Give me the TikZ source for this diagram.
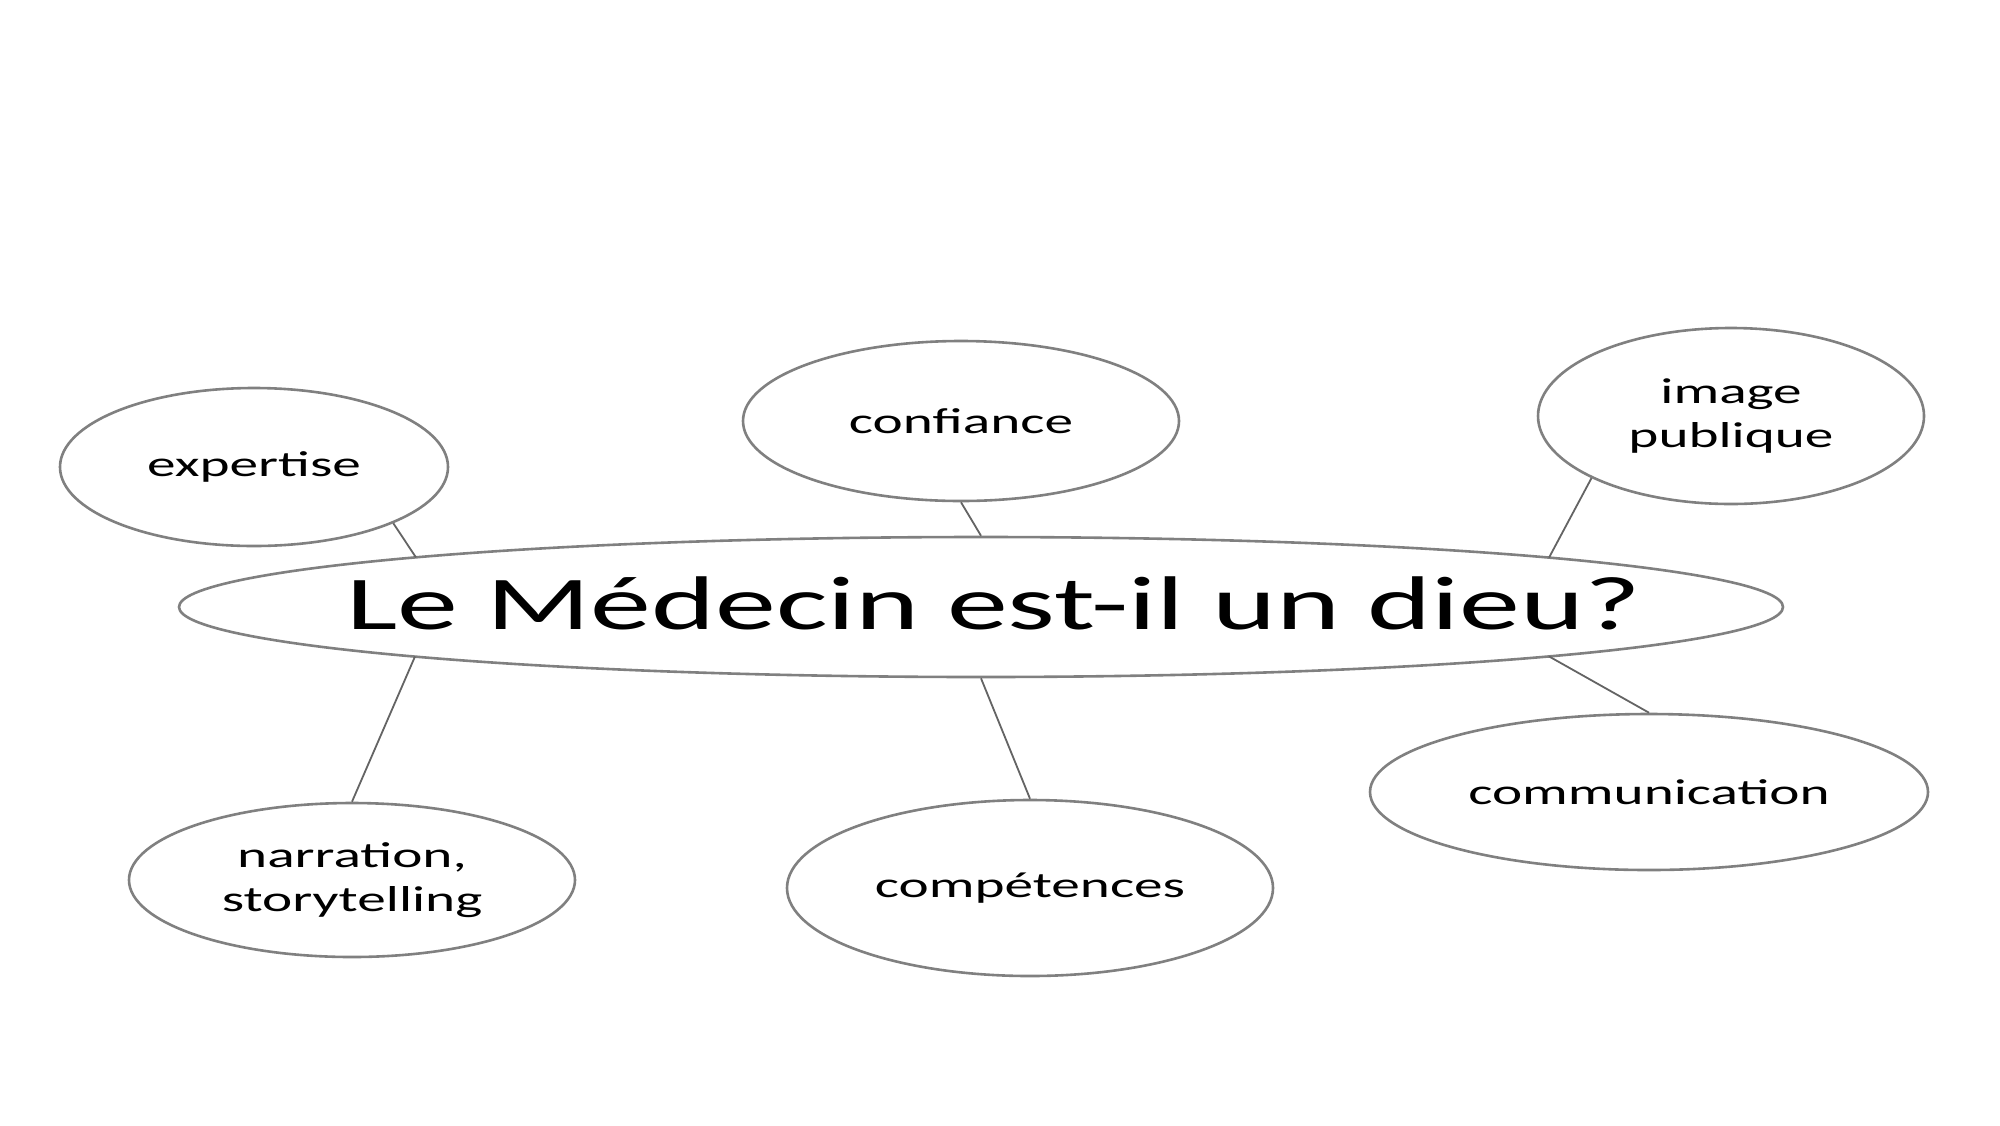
\documentclass[tikz,border=0pt]{standalone}
\usepackage{fontspec}
\setmainfont{Carlito}
\newfontfamily\titlefont{Carlito}[FakeStretch=1.605]
\newfontfamily\labelfont{Carlito}[FakeStretch=1.59]
\usetikzlibrary{shapes.geometric,calc}
\definecolor{edgegray}{RGB}{128,128,128}
\definecolor{linkgray}{RGB}{100,100,100}
\begin{document}
\begin{tikzpicture}[x=0.5pt,y=-0.5pt,
  bubble/.style={ellipse, draw=edgegray, line width=1.3pt, inner sep=0pt, align=center,
    font=\labelfont\fontsize{18}{22}\selectfont, text=black},
  link/.style={draw=linkgray, line width=0.9pt}]
\useasboundingbox[fill=white] (0,0) rectangle (2000,1125);
\node[bubble, minimum width=802pt, minimum height=70pt,
  font=\titlefont\fontsize{38}{40}\selectfont] (main) at (981,607)
  {\makebox[0pt]{\hspace*{13pt}\raisebox{4pt}{Le Médecin est-il un dieu?}}};
\node[bubble, minimum width=194pt, minimum height=79pt] (expertise) at (254,467) {expertise};
\node[bubble, minimum width=218pt, minimum height=80pt] (confiance) at (961,421) {confiance};
\node[bubble, minimum width=193pt, minimum height=88pt] (image) at (1731,416) {image\\publique};
\node[bubble, minimum width=223pt, minimum height=77pt] (narration) at (352,880) {narration,\\storytelling};
\node[bubble, minimum width=243pt, minimum height=88pt] (comp) at (1030,888) {compétences};
\node[bubble, minimum width=279pt, minimum height=78pt] (comm) at (1649,792) {communication};
\coordinate (mEx) at ($(main.center)+(-565,-49.6)$);
\coordinate (mIm) at ($(main.center)+(568,-49.4)$);
\coordinate (mNa) at ($(main.center)+(-566,49.5)$);
\coordinate (mCo) at ($(main.center)+(568,49.4)$);
\draw[link] (expertise.-22) -- (mEx);
\draw[link] (confiance.south) -- (main.north);
\draw[link] (image.204.2) -- (mIm);
\draw[link] (mNa) -- (narration.north);
\draw[link] (main.south) -- (comp.north);
\draw[link] (mCo) -- (comm.north);
\end{tikzpicture}
\end{document}
